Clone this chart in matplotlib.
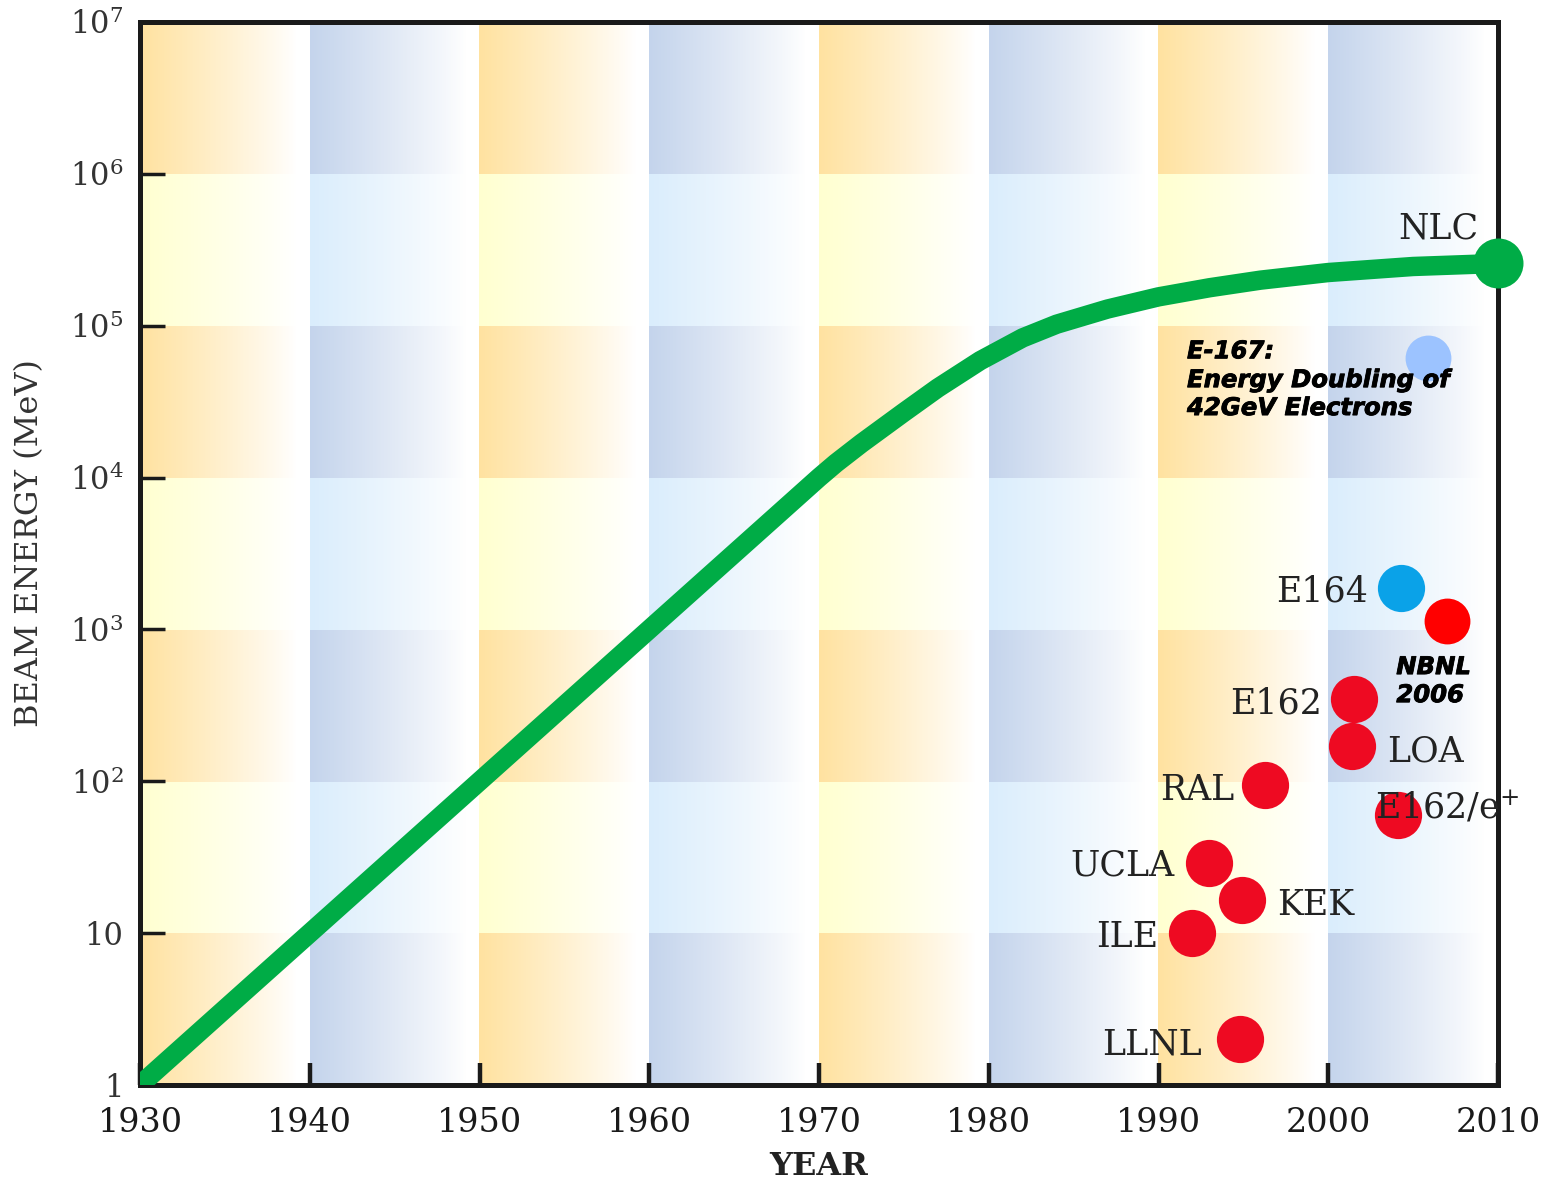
import numpy as np
import matplotlib
matplotlib.use("Agg")
import matplotlib.pyplot as plt
import matplotlib.patheffects as pe
from matplotlib.ticker import FixedLocator, FixedFormatter

plt.rcParams['font.family'] = ['DejaVu Serif']
plt.rcParams['mathtext.fontset'] = 'dejavuserif'

# ---------------- data ----------------
curve_years = [1930, 1940, 1950, 1960, 1967, 1970, 1971, 1972.5, 1975, 1977, 1979.5,
               1982, 1984, 1987, 1990, 1993, 1996, 2000, 2005, 2010]
curve_energy = [1, 10, 100, 1000, 5010, 10000, 12450, 16800, 26900, 38900, 58900,
                83200, 102300, 128800, 154900, 177800, 199500, 224000, 245500, 257000]

red_names = ['LLNL', 'ILE', 'KEK', 'UCLA', 'RAL', 'E162/e+', 'LOA', 'E162']
red_years = [1994.8, 1992.0, 1994.9, 1993.0, 1996.3, 2004.1, 2001.4, 2001.5]
red_energy = [2.0, 10, 16.5, 29, 94, 60, 170, 350]

e164_year, e164_energy = [2004.3], [1870]
nbnl_year, nbnl_energy = [2007.0], [1130]
e167_year, e167_energy = [2005.9], [61000]
nlc_year, nlc_energy = [2010], [257000]

x_ticks = [1930, 1940, 1950, 1960, 1970, 1980, 1990, 2000, 2010]
x_ticklabels = ['1930', '1940', '1950', '1960', '1970', '1980', '1990', '2000', '2010']
y_ticks = [1, 10, 1e2, 1e3, 1e4, 1e5, 1e6, 1e7]
y_ticklabels = ['1', '10', r'$10^2$', r'$10^3$', r'$10^4$', r'$10^5$', r'$10^6$', r'$10^7$']

# ---------------- figure ----------------
W, H = 1547, 1180
fig = plt.figure(figsize=(W / 100, H / 100), dpi=100)
pos = [140 / W, 1 - 1085 / H, (1498 - 140) / W, (1085 - 22) / H]

# background checkerboard with gradients
bg = fig.add_axes(pos, zorder=0)
bg.set_axis_off()
n_dec_x, n_dec_y, res = 8, 7, 200
img = np.ones((n_dec_y, n_dec_x * res, 3))
yd = np.array([255, 226, 160]) / 255
yl = np.array([255, 255, 208]) / 255
bd = np.array([196, 212, 236]) / 255
bl = np.array([218, 237, 252]) / 255
t = (np.arange(res) + 0.5) / res
w = np.clip(1 - t / 0.92, 0, 1) ** 0.9
for r in range(n_dec_y):
    for d in range(n_dec_x):
        dark = (r % 2 == 0)
        if d % 2 == 0:
            c = yd if dark else yl
        else:
            c = bd if dark else bl
        img[r, d * res:(d + 1) * res, :] = 1 - (1 - c)[None, :] * w[:, None]
bg.imshow(img, origin='lower', extent=(0, 1, 0, 1), aspect='auto', interpolation='nearest')
bg.set_xlim(0, 1)
bg.set_ylim(0, 1)

ax = fig.add_axes(pos, zorder=1)
ax.set_facecolor('none')
ax.set_yscale('log')
ax.set_xlim(1930, 2010)
ax.set_ylim(1, 1e7)

green = '#00AC46'
ax.plot(curve_years, curve_energy, color=green, lw=14, solid_capstyle='round',
        solid_joinstyle='round', zorder=3)
ax.plot(nlc_year, nlc_energy, 'o', color=green, ms=36, mec='none', clip_on=False, zorder=3)

ax.plot(red_years, red_energy, 'o', color='#EE0A22', ms=34, mec='none', ls='none', zorder=4)
ax.plot(e164_year, e164_energy, 'o', color='#0AA2E8', ms=34, mec='none', zorder=4)
ax.plot(nbnl_year, nbnl_energy, 'o', color='#FF0000', ms=33, mec='none', zorder=4)
ax.plot(e167_year, e167_energy, 'o', color='#9CC3FF', ms=33, mec='none', zorder=4)

# serif labels
lab_kw = dict(fontsize=25, color='#222222', zorder=6, va='baseline')
ax.text(2002.34, 1536, 'E164', ha='right', **lab_kw)
ax.text(1999.63, 281, 'E162', ha='right', **lab_kw)
ax.text(2003.46, 136, 'LOA', ha='left', **lab_kw)
ax.text(1994.45, 75, 'RAL', ha='right', **lab_kw)
ax.text(2002.75, 57, r'E162/e$^{+}$', ha='left', **lab_kw)
ax.text(1990.97, 24.1, 'UCLA', ha='right', **lab_kw)
ax.text(1996.98, 13.2, 'KEK', ha='left', **lab_kw)
ax.text(1989.97, 8.1, 'ILE', ha='right', **lab_kw)
ax.text(1992.56, 1.6, 'LLNL', ha='right', **lab_kw)
ax.text(2006.47, 3.77e5, 'NLC', ha='center', **lab_kw)

# heavy italic sans annotations
heavy = [pe.withStroke(linewidth=0.6, foreground='black')]
bi_kw = dict(fontsize=17.5, fontweight='bold', fontstyle='italic',
             family=['DejaVu Sans'], color='black', zorder=6, va='baseline',
             path_effects=heavy)
ax.text(1991.68, 6.1e4, 'E-167:', ha='left', **bi_kw)
ax.text(1991.68, 3.94e4, 'Energy Doubling of', ha='left', **bi_kw)
ax.text(1991.68, 2.58e4, '42GeV Electrons', ha='left', **bi_kw)
ax.text(2006.2, 508, 'NBNL', ha='center', **bi_kw)
ax.text(2006.0, 332, '2006', ha='center', **bi_kw)

# axes styling
ax.xaxis.set_major_locator(FixedLocator(x_ticks))
ax.xaxis.set_major_formatter(FixedFormatter(x_ticklabels))
ax.yaxis.set_major_locator(FixedLocator(y_ticks))
ax.yaxis.set_major_formatter(FixedFormatter(y_ticklabels))
ax.yaxis.set_minor_locator(FixedLocator([]))
ax.tick_params(axis='x', direction='in', length=16, width=3.2, pad=16,
               labelsize=24, colors='#1a1a1a', top=False)
ax.tick_params(axis='y', direction='in', length=18, width=2.5, pad=12,
               labelsize=22, colors='#1a1a1a', right=False)
ax.tick_params(axis='y', labelcolor='#333333')
for s in ax.spines.values():
    s.set_linewidth(3.6)
    s.set_color('#1a1a1a')

ax.set_xlabel('YEAR', fontsize=23, fontweight='bold', color='#222222')
ax.xaxis.set_label_coords(0.5, -0.062)
ax.set_ylabel('BEAM ENERGY (MeV)', fontsize=23, color='#333333')
ax.yaxis.set_label_coords(-0.07, 0.51)

fig.savefig('out.png', dpi=100)
